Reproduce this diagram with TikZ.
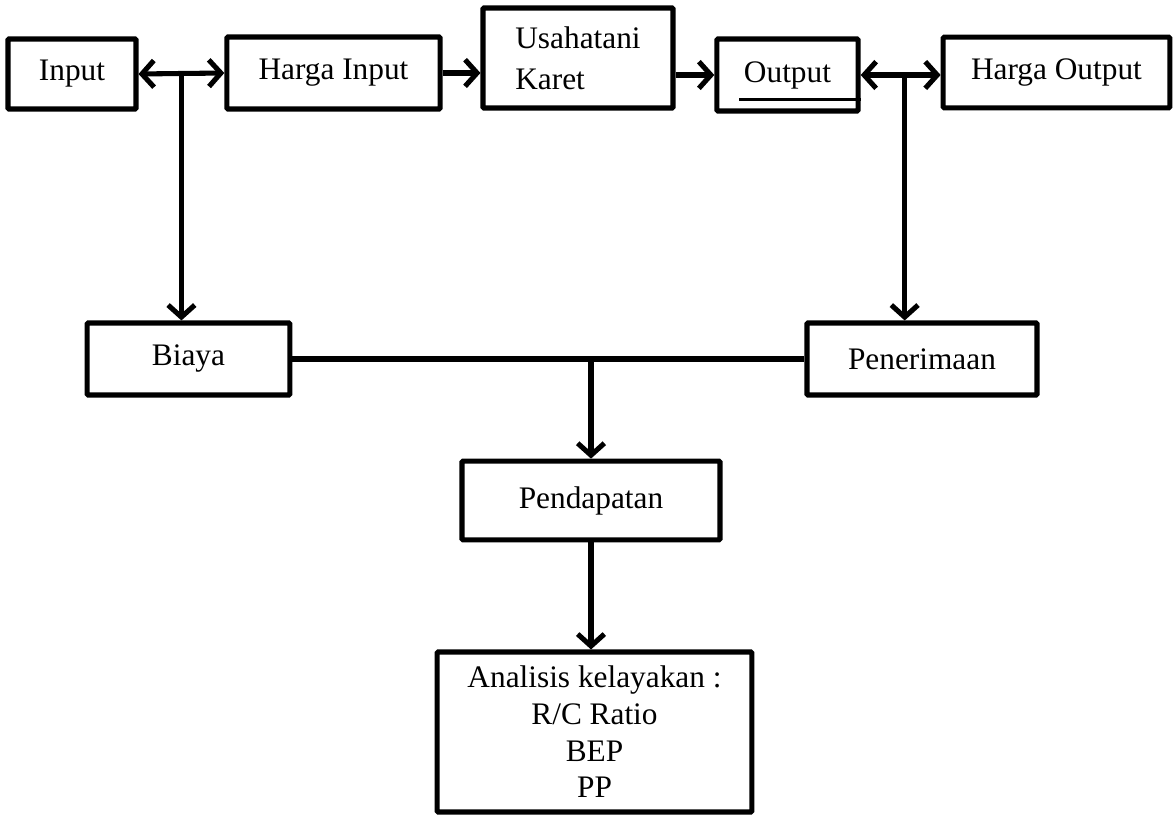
\documentclass[tikz,border=0pt]{standalone}
\usepackage{fontspec}
\setmainfont{Liberation Serif}
\usetikzlibrary{arrows.meta,calc}

\begin{document}
\begin{tikzpicture}[x=0.75pt,y=-0.75pt,line width=3.8pt,
    >={Straight Barb[length=9pt,width=20pt]},
    box/.style={draw,rectangle,rounded corners=0.8pt,inner sep=0pt,
        font=\fontsize{23.5}{27.5}\selectfont,align=center}]
        \useasboundingbox (0,0) rectangle (1173,816);
        \node[box,minimum width=96pt,minimum height=52.5pt] (inp) at (72,74) {Input};
        \node[box,minimum width=160pt,minimum height=54pt] (hin) at (333.5,73) {Harga Input};
        \node[box,minimum width=142.5pt,minimum height=75pt,align=left,
            font=\fontsize{23.5}{31}\selectfont] (usk) at (578,58) {Usahatani\\Karet};
        \node[box,minimum width=106pt,minimum height=54pt] (outp) at (787.5,75) {Output};
        \node[box,minimum width=170pt,minimum height=53pt] (hout) at (1056.5,72.5) {Harga Output};
        \node[box,minimum width=152pt,minimum height=54pt] (biaya) at (188.5,359) {Biaya};
        \node[box,minimum width=172.5pt,minimum height=54pt] (pen) at (922,359) {Penerimaan};
        \node[box,minimum width=193.5pt,minimum height=59pt] (pend) at (591,500.5) {Pendapatan};
        \node[box,minimum width=236pt,minimum height=120pt] (anal) at (594.5,732)
            {Analisis kelayakan :\\R/C Ratio\\BEP\\PP};
        \draw[line width=1.8pt] ([xshift=18.75pt,yshift=10.5pt]outp.south west)
            -- ([yshift=10.5pt]outp.south east);
        % junctions
        \coordinate (j1) at ($(inp.east)!0.5!(hin.west)$);
        \coordinate (j2) at ($(outp.east)!0.55!(hout.west)$);
        \coordinate (j3) at (pend.north |- biaya.east);
        \draw[<->] (inp.east) -- (hin.west);
        \draw[->] (hin.east) -- (hin.east -| usk.west);
        \draw[->] (outp.west -| usk.east) -- (outp.west);
        \draw[<->] (outp.east) -- (outp.east -| hout.west);
        \draw[->] (j1) -- (j1 |- biaya.north);
        \draw[->] (j2) -- (j2 |- pen.north);
        \draw (biaya.east) -- (pen.west);
        \draw[->] (j3) -- (pend.north);
        \draw[->] (pend.south) -- (pend.south |- anal.north);
\end{tikzpicture}
\end{document}
